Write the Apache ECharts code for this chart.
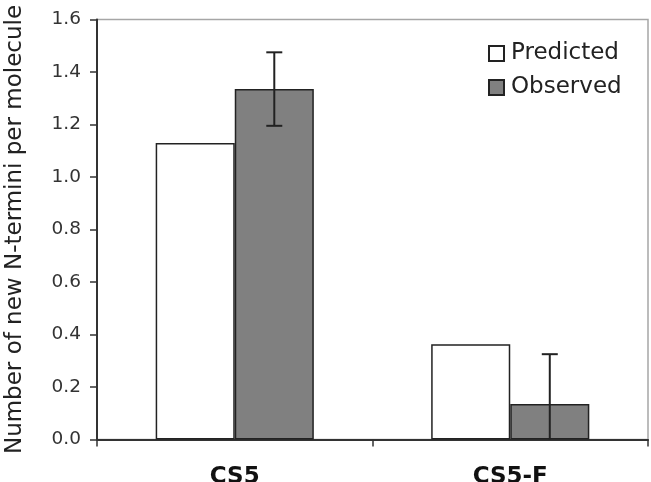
<!DOCTYPE html>
<html>
<head>
<meta charset="utf-8">
<script src="https://cdn.jsdelivr.net/npm/echarts@6/dist/echarts.min.js"></script>
<style>html,body{margin:0;padding:0;background:#fff}#c{width:651px;height:482px}</style>
</head>
<body>
<div id="c"></div>
<script>
var categories = ['CS5', 'CS5-F'];
var predicted = [1.13, 0.363];
var observed = [1.335, 0.135];
var observedErr = [0.14, 0.19];
var yTicks = [0, 0.2, 0.4, 0.6, 0.8, 1.0, 1.2, 1.4, 1.6];

var FONT = '"DejaVu Sans", Verdana, sans-serif';
var BAR_FRAC = 0.287;

var chart = echarts.init(document.getElementById('c'), null, {renderer: 'canvas'});

var errData = categories.map(function (c, i) { return [i, observed[i], observedErr[i]]; });

var option = {
  backgroundColor: '#fff',
  animation: false,
  grid: {left: 97, right: 3, top: 19.5, bottom: 42.5, show: true, borderColor: '#a6a6a6', borderWidth: 1.5,
    backgroundColor: 'transparent', containLabel: false, outerBoundsMode: 'none'},
  legend: {
    orient: 'vertical', left: 488, top: 42, padding: 0,
    itemWidth: 15, itemHeight: 15, itemGap: 11,
    icon: 'rect',
    textStyle: {fontFamily: FONT, fontSize: 23, color: '#222', padding: [0, 0, 0, 2]},
    data: ['Predicted', 'Observed']
  },
  xAxis: {
    type: 'category', data: categories,
    axisLine: {lineStyle: {color: '#333', width: 2}},
    axisTick: {show: true, inside: false, length: 7, alignWithLabel: false, lineStyle: {color: '#333', width: 1.5}},
    axisLabel: {fontFamily: FONT, fontSize: 23, fontWeight: 'bold', color: '#111', margin: 26}
  },
  yAxis: {
    type: 'value', min: 0, max: 1.6, interval: 0.2,
    name: 'Number of new N-termini per molecule',
    nameLocation: 'middle', nameGap: 70,
    nameTextStyle: {fontFamily: FONT, fontSize: 23, color: '#222'},
    axisLine: {show: true, lineStyle: {color: '#333', width: 2}},
    axisTick: {show: true, inside: false, length: 7, lineStyle: {color: '#333', width: 1.5}},
    splitLine: {show: false},
    axisLabel: {fontFamily: FONT, fontSize: 18.5, color: '#333', margin: 16,
      formatter: function (v) { return v.toFixed(1); }}
  },
  series: [
    {
      name: 'Predicted', type: 'bar', data: predicted,
      barWidth: (BAR_FRAC * 100) + '%', barGap: '0%',
      itemStyle: {color: '#ffffff', borderColor: '#222', borderWidth: 1.5}
    },
    {
      name: 'Observed', type: 'bar', data: observed,
      barWidth: (BAR_FRAC * 100) + '%', barGap: '0%',
      itemStyle: {color: '#808080', borderColor: '#222', borderWidth: 1.5}
    },
    {
      type: 'custom', name: 'err', z: 10,
      data: errData,
      renderItem: function (params, api) {
        var i = api.value(0), v = api.value(1), e = api.value(2);
        var band = api.size([1, 0])[0];
        var off = band * BAR_FRAC / 2;
        var lo = Math.max(0, v - e), hi = v + e;
        var pHi = api.coord([i, hi]);
        var pLo = api.coord([i, lo]);
        var x = pHi[0] + off;
        var cap = 8;
        var children = [
          {type: 'line', shape: {x1: x, y1: pHi[1], x2: x, y2: pLo[1]}, style: {stroke: '#222', lineWidth: 2}},
          {type: 'line', shape: {x1: x - cap, y1: pHi[1], x2: x + cap, y2: pHi[1]}, style: {stroke: '#222', lineWidth: 2}}
        ];
        if (v - e > 0) {
          children.push({type: 'line', shape: {x1: x - cap, y1: pLo[1], x2: x + cap, y2: pLo[1]}, style: {stroke: '#222', lineWidth: 2}});
        }
        return {type: 'group', children: children};
      }
    }
  ]
};
chart.setOption(option);
</script>
</body>
</html>
